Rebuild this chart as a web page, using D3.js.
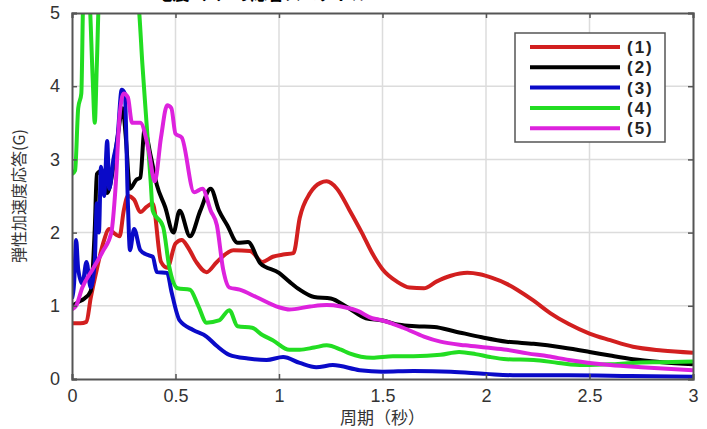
<!DOCTYPE html>
<html>
<head>
<meta charset="utf-8">
<script src="https://cdn.jsdelivr.net/npm/d3@7"></script>
<style>
  body { margin: 0; background: #fff; }
  text { font-family: "Liberation Sans", Arial, sans-serif; }
</style>
</head>
<body>
<svg class="chart"></svg>
<script>
// series names and colours
var seriesNames = ["(1)", "(2)", "(3)", "(4)", "(5)"];
var seriesColors = ["#d21f1f", "#000000", "#0a0ac8", "#22dd22", "#dd22dd"];

// [period (s), response (G)]
var s1 = [[0,0.76],[0.04,0.76],[0.07,0.78],[0.09,1.1],[0.12,1.5],[0.15,1.85],[0.18,2.05],[0.2,2.0],[0.23,1.95],[0.25,2.3],[0.27,2.5],[0.3,2.45],[0.33,2.28],[0.36,2.35],[0.39,2.4],[0.43,1.6],[0.46,1.52],[0.5,1.85],[0.53,1.9],[0.56,1.8],[0.6,1.6],[0.65,1.46],[0.7,1.6],[0.78,1.76],[0.86,1.75],[0.92,1.6],[0.97,1.67],[1.02,1.7],[1.07,1.72],[1.1,2.2],[1.15,2.54],[1.2,2.68],[1.23,2.7],[1.28,2.6],[1.34,2.31],[1.4,2.0],[1.45,1.72],[1.5,1.5],[1.57,1.33],[1.63,1.25],[1.7,1.24],[1.76,1.33],[1.83,1.41],[1.91,1.45],[1.97,1.43],[2.03,1.38],[2.1,1.3],[2.15,1.22],[2.23,1.07],[2.31,0.9],[2.4,0.75],[2.5,0.62],[2.6,0.53],[2.71,0.44],[2.85,0.39],[3.0,0.36]];
var s2 = [[0,1.0],[0.03,1.05],[0.06,1.1],[0.09,1.2],[0.11,2.05],[0.12,2.8],[0.145,2.85],[0.17,2.54],[0.2,2.9],[0.22,3.3],[0.245,3.7],[0.26,3.3],[0.28,2.6],[0.31,2.72],[0.33,2.75],[0.35,3.4],[0.38,3.05],[0.41,2.65],[0.45,2.35],[0.49,2.0],[0.52,2.3],[0.57,1.95],[0.62,2.3],[0.67,2.6],[0.71,2.3],[0.75,2.1],[0.8,1.86],[0.85,1.87],[0.91,1.58],[1.0,1.45],[1.05,1.33],[1.1,1.22],[1.17,1.12],[1.25,1.1],[1.33,0.98],[1.42,0.83],[1.5,0.8],[1.58,0.74],[1.66,0.72],[1.75,0.71],[1.85,0.65],[1.98,0.57],[2.1,0.51],[2.23,0.48],[2.37,0.43],[2.5,0.37],[2.6,0.32],[2.71,0.27],[2.85,0.23],[3.0,0.2]];
var s3 = [[0,1.1],[0.01,1.3],[0.02,1.9],[0.03,1.5],[0.05,1.3],[0.07,1.6],[0.09,1.25],[0.11,1.6],[0.12,2.4],[0.13,2.0],[0.14,2.9],[0.155,2.5],[0.17,3.25],[0.18,2.6],[0.2,3.0],[0.22,3.3],[0.24,3.95],[0.255,3.9],[0.27,2.4],[0.28,1.76],[0.3,2.05],[0.33,1.76],[0.36,1.7],[0.39,1.67],[0.41,1.46],[0.46,1.45],[0.48,1.2],[0.52,0.8],[0.585,0.67],[0.65,0.58],[0.7,0.45],[0.76,0.33],[0.85,0.28],[0.94,0.26],[1.02,0.3],[1.1,0.22],[1.18,0.16],[1.26,0.19],[1.39,0.12],[1.5,0.1],[1.65,0.11],[1.83,0.1],[2.0,0.07],[2.15,0.05],[2.4,0.05],[2.7,0.04],[3.0,0.03]];
var s4 = [[0,2.8],[0.015,2.85],[0.03,3.7],[0.045,3.9],[0.055,5.3],[0.07,5.6],[0.085,5.2],[0.1,4.1],[0.11,3.5],[0.12,4.3],[0.132,5.3],[0.2,5.8],[0.3,5.6],[0.325,5.0],[0.34,4.3],[0.36,3.5],[0.38,2.7],[0.39,2.3],[0.44,2.08],[0.47,1.53],[0.51,1.24],[0.57,1.22],[0.61,1.0],[0.65,0.77],[0.71,0.8],[0.76,0.94],[0.8,0.72],[0.87,0.7],[0.92,0.6],[0.97,0.53],[1.05,0.4],[1.1,0.4],[1.17,0.43],[1.23,0.46],[1.3,0.4],[1.34,0.35],[1.45,0.29],[1.55,0.31],[1.65,0.31],[1.78,0.33],[1.87,0.37],[1.95,0.34],[2.02,0.3],[2.1,0.27],[2.23,0.26],[2.35,0.22],[2.47,0.19],[2.6,0.2],[2.71,0.22],[2.85,0.23],[3.0,0.24]];
var s5 = [[0,0.95],[0.02,1.0],[0.05,1.25],[0.1,1.5],[0.15,1.75],[0.19,2.0],[0.21,2.6],[0.23,3.6],[0.25,3.9],[0.27,3.85],[0.29,3.5],[0.33,3.5],[0.37,3.13],[0.4,2.7],[0.43,3.3],[0.46,3.74],[0.48,3.7],[0.5,3.35],[0.53,3.3],[0.59,2.55],[0.63,2.6],[0.67,2.3],[0.7,2.1],[0.73,1.5],[0.76,1.25],[0.81,1.22],[0.89,1.12],[1.0,0.98],[1.05,0.95],[1.15,0.99],[1.23,1.01],[1.3,0.99],[1.38,0.93],[1.45,0.83],[1.5,0.8],[1.6,0.7],[1.7,0.58],[1.78,0.51],[1.9,0.46],[2.0,0.43],[2.1,0.4],[2.2,0.35],[2.3,0.31],[2.4,0.26],[2.5,0.22],[2.6,0.19],[2.75,0.16],[3.0,0.12]];
var allSeries = [s1, s2, s3, s4, s5];

var xTicks = [0, 0.5, 1, 1.5, 2, 2.5, 3];
var yTicks = [0, 1, 2, 3, 4, 5];

var width = 707;
var height = 429;
var margin = {left: 72, right: 14, top: 13, bottom: 50};

var svg = d3.select(".chart")
  .attr("width", width)
  .attr("height", height);

var x = d3.scaleLinear().domain([0, 3]).range([margin.left, width - margin.right]);
var y = d3.scaleLinear().domain([0, 5]).range([height - margin.bottom, margin.top]);

// title (cut off at top in the original)
svg.append("text")
  .attr("x", 262).attr("y", 0)
  .attr("text-anchor", "middle")
  .style("font-family", "'Noto Sans CJK JP', sans-serif")
  .style("font-size", "17px")
  .style("font-weight", "bold")
  .text("地震（2）の応答スペクトル");

// grid
svg.selectAll(".gx")
  .data(xTicks.slice(1, -1))
  .enter().append("line")
  .attr("x1", function(d){return x(d);})
  .attr("x2", function(d){return x(d);})
  .attr("y1", y(5)).attr("y2", y(0))
  .attr("stroke", "#dcdcdc").attr("stroke-width", 1.5);
svg.selectAll(".gy")
  .data(yTicks.slice(1, -1))
  .enter().append("line")
  .attr("y1", function(d){return y(d);})
  .attr("y2", function(d){return y(d);})
  .attr("x1", x(0)).attr("x2", x(3))
  .attr("stroke", "#dcdcdc").attr("stroke-width", 1.5);

svg.append("clipPath").attr("id", "plotclip")
  .append("rect")
  .attr("x", x(0)).attr("y", y(5))
  .attr("width", x(3) - x(0)).attr("height", y(0) - y(5));

var line = d3.line()
  .x(function(d){return x(d[0]);})
  .y(function(d){return y(d[1]);})
  .curve(d3.curveMonotoneX);

svg.append("g").attr("clip-path", "url(#plotclip)")
  .selectAll("path")
  .data(allSeries)
  .enter().append("path")
  .attr("d", line)
  .attr("fill", "none")
  .attr("stroke", function(d, i){return seriesColors[i];})
  .attr("stroke-width", 4)
  .attr("stroke-linejoin", "round");

// axes (box with inward ticks like matlab)
var xAxis = svg.append("g")
  .attr("transform", "translate(0," + y(0) + ")")
  .call(d3.axisBottom(x).tickValues(xTicks).tickSize(-5).tickPadding(10).tickFormat(d3.format("")));
var xTop = svg.append("g")
  .attr("transform", "translate(0," + y(5) + ")")
  .call(d3.axisTop(x).tickValues(xTicks).tickSize(-5).tickFormat(""));
var yAxis = svg.append("g")
  .attr("transform", "translate(" + x(0) + ",0)")
  .call(d3.axisLeft(y).tickValues(yTicks).tickSize(-5).tickPadding(12).tickFormat(d3.format("d")));
var yRight = svg.append("g")
  .attr("transform", "translate(" + x(3) + ",0)")
  .call(d3.axisRight(y).tickValues(yTicks).tickSize(-5).tickFormat(""));

[xAxis, xTop, yAxis, yRight].forEach(function(g){
  g.selectAll(".domain").attr("stroke", "#555").attr("stroke-width", 2);
  g.selectAll(".tick line").attr("stroke", "#555").attr("stroke-width", 1.5);
  g.selectAll("text")
    .attr("fill", "#333")
    .style("font-size", "18px")
    .style("font-family", "'Liberation Sans', Arial, sans-serif");
});

// axis labels
svg.append("text")
  .attr("x", (x(0) + x(3)) / 2).attr("y", 424)
  .attr("text-anchor", "middle")
  .attr("fill", "#333")
  .style("font-family", "'Noto Sans CJK JP', sans-serif")
  .style("font-size", "17px")
  .text("周期（秒）");

svg.append("text")
  .attr("transform", "translate(25," + 196 + ") rotate(-90)")
  .attr("text-anchor", "middle")
  .attr("fill", "#333")
  .style("font-family", "'Noto Sans CJK JP', sans-serif")
  .style("font-size", "16px")
  .text("弾性加速度応答(G)");

// legend
var leg = svg.append("g");
leg.append("rect")
  .attr("x", 515).attr("y", 33)
  .attr("width", 150).attr("height", 109)
  .attr("fill", "#fff")
  .attr("stroke", "#555").attr("stroke-width", 1.5);

leg.selectAll(".ll")
  .data(seriesNames)
  .enter().append("line")
  .attr("x1", 530).attr("x2", 620)
  .attr("y1", function(d, i){return 47 + i * 20.3;})
  .attr("y2", function(d, i){return 47 + i * 20.3;})
  .attr("stroke", function(d, i){return seriesColors[i];})
  .attr("stroke-width", 4);

leg.selectAll(".lt")
  .data(seriesNames)
  .enter().append("text")
  .attr("x", 627)
  .attr("y", function(d, i){return 47 + i * 20.3 + 6;})
  .attr("fill", "#222")
  .style("font-family", "'Liberation Sans', Arial, sans-serif")
  .style("font-size", "17px")
  .style("font-weight", "bold")
  .style("letter-spacing", "2px")
  .text(function(d){return d;});
</script>
</body>
</html>
